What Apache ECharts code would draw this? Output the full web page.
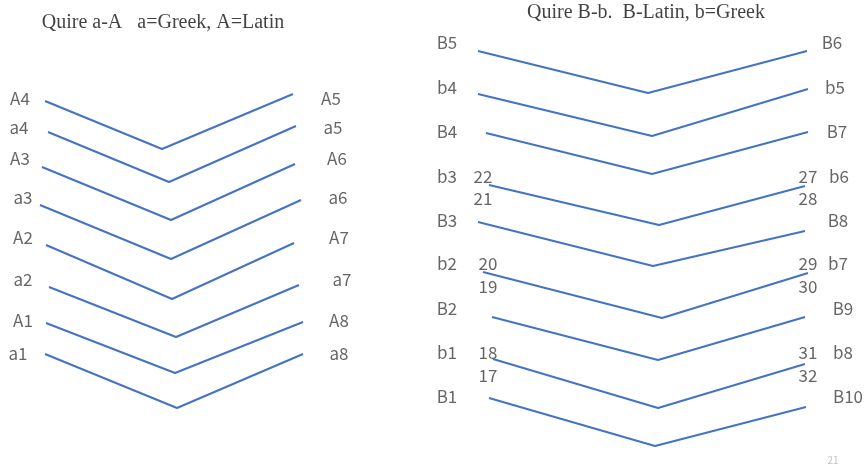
<!DOCTYPE html>
<html>
<head>
<meta charset="utf-8">
<script src="https://cdn.jsdelivr.net/npm/echarts@6/dist/echarts.min.js"></script>
<style>
html,body{margin:0;padding:0;background:#fff;}
#chart{width:865px;height:466px;}
</style>
</head>
<body>
<div id="chart"></div>
<script>
// ---- Quire a-A (left diagram) ----
const quireATitle = 'Quire a-A   a=Greek, A=Latin';
const quireATitlePos = [163, 23];
const quireALeftNames = ['A4', 'a4', 'A3', 'a3', 'A2', 'a2', 'A1', 'a1'];
const quireARightNames = ['A5', 'a5', 'A6', 'a6', 'A7', 'a7', 'A8', 'a8'];
const quireALeftEnd = [[45, 101], [48, 132], [42, 167], [40, 205], [46, 245], [49, 287], [46, 323], [45, 354]];
const quireAFold = [[162, 149], [169, 182], [171, 220], [171, 259], [172, 299], [176, 337], [175, 373], [177, 408]];
const quireARightEnd = [[293, 94], [296, 126], [295, 164], [301, 200], [294, 243], [299, 285], [303, 322], [303, 354]];
const quireALeftLabelPos = [[20, 99], [19, 128], [20, 159], [23, 198], [23, 238], [23, 280], [23, 321], [18, 354]];
const quireARightLabelPos = [[331, 99], [333, 128], [337, 159], [338, 198], [339, 238], [342, 280], [339, 321], [339, 354]];

// ---- Quire B-b (right diagram) ----
const quireBTitle = 'Quire B-b.  B-Latin, b=Greek';
const quireBTitlePos = [646, 13];
const quireBLeftNames = ['B5', 'b4', 'B4', 'b3', 'B3', 'b2', 'B2', 'b1', 'B1'];
const quireBRightNames = ['B6', 'b5', 'B7', 'b6', 'B8', 'b7', 'B9', 'b8', 'B10'];
const quireBLeftEnd = [[478, 51], [478, 94], [486, 133], [489, 185], [478, 222], [483, 272], [492, 317], [493, 359], [489, 398]];
const quireBFold = [[648, 93], [652, 136], [652, 174], [659, 225], [653, 266], [662, 318], [658, 360], [658, 408], [655, 446]];
const quireBRightEnd = [[807, 51], [808, 89], [808, 132], [805, 186], [805, 231], [808, 273], [805, 317], [805, 364], [806, 407]];
const quireBLeftLabelPos = [[447, 43], [447, 88], [447, 132], [447, 177], [447, 221], [447, 264], [447, 309], [447, 353], [447, 397]];
const quireBRightLabelPos = [[832, 43], [835, 88], [837, 132], [839, 177], [838, 221], [838, 264], [843, 309], [843, 353], [848, 397]];

// page numbers written next to the Greek leaves
const pageNumLeft = ['22', '21', '20', '19', '18', '17'];
const pageNumLeftPos = [[483, 177], [483, 199], [488, 264], [488, 287], [488, 353], [488, 376]];
const pageNumRight = ['27', '28', '29', '30', '31', '32'];
const pageNumRightPos = [[808, 177], [808, 199], [808, 264], [808, 287], [808, 353], [808, 376]];

const slideNumber = '21';
const slideNumberPos = [833, 460];

const lineColor = '#4472C4';
const labelColor = '#404040';
const sansFont = '"Noto Sans CJK JP", "Noto Sans", sans-serif';

function sheetSeries(lefts, folds, rights) {
  return lefts.map((l, i) => ({
    type: 'line',
    data: [l, folds[i], rights[i]],
    symbol: 'none',
    silent: true,
    animation: false,
    lineStyle: { color: lineColor, width: 2 }
  }));
}

function textSeries(names, positions, style) {
  return {
    type: 'scatter',
    symbolSize: 0,
    silent: true,
    animation: false,
    data: names.map((n, i) => ({ name: n, value: positions[i] })),
    label: Object.assign({
      show: true,
      position: 'inside',
      align: 'center',
      verticalAlign: 'middle',
      formatter: p => p.name
    }, style)
  };
}

const labelStyle = { color: labelColor, fontSize: 17, fontFamily: sansFont };
const titleStyle = { color: '#111111', fontSize: 20, fontFamily: '"Liberation Serif", "Times New Roman", serif' };

const series = [].concat(
  sheetSeries(quireALeftEnd, quireAFold, quireARightEnd),
  sheetSeries(quireBLeftEnd, quireBFold, quireBRightEnd),
  [
    textSeries(quireALeftNames, quireALeftLabelPos, labelStyle),
    textSeries(quireARightNames, quireARightLabelPos, labelStyle),
    textSeries(quireBLeftNames, quireBLeftLabelPos, labelStyle),
    textSeries(quireBRightNames, quireBRightLabelPos, labelStyle),
    textSeries(pageNumLeft, pageNumLeftPos, labelStyle),
    textSeries(pageNumRight, pageNumRightPos, labelStyle),
    textSeries([quireATitle], [quireATitlePos], titleStyle),
    textSeries([quireBTitle], [quireBTitlePos], titleStyle),
    textSeries([slideNumber], [slideNumberPos], { color: '#b0b0b0', fontSize: 10, fontFamily: sansFont })
  ]
);

const chart = echarts.init(document.getElementById('chart'), null, { renderer: 'canvas' });
chart.setOption({
  backgroundColor: '#ffffff',
  animation: false,
  grid: { left: 0, right: 0, top: 0, bottom: 0 },
  xAxis: { type: 'value', min: 0, max: 865, show: false },
  yAxis: { type: 'value', min: 0, max: 466, inverse: true, show: false },
  series: series
});
</script>
</body>
</html>
